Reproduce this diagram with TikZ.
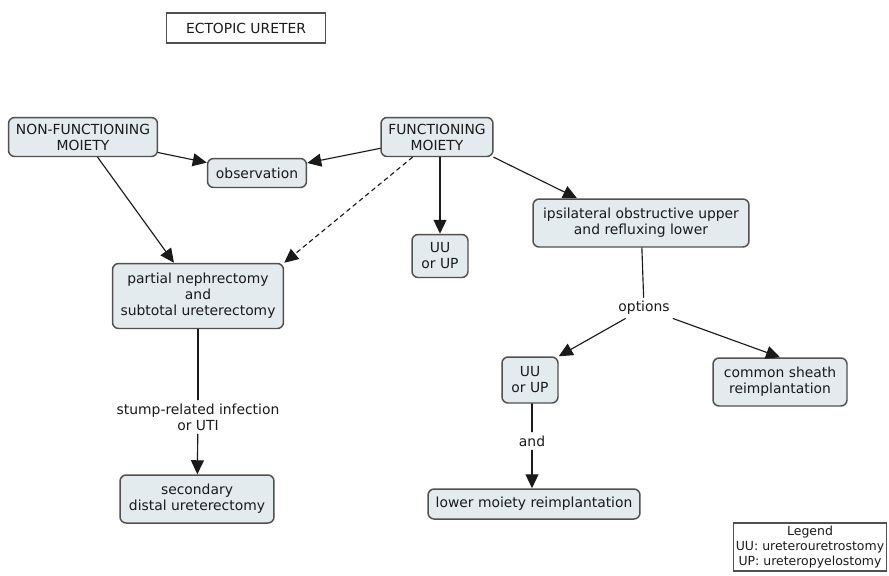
\documentclass[tikz,border=0pt]{standalone}
\usepackage{fontspec}
\setmainfont{DejaVu Sans}
\usetikzlibrary{arrows.meta}
\definecolor{conceptfill}{HTML}{E3EBEF}
\definecolor{conceptdraw}{HTML}{505050}
\definecolor{linkcolor}{HTML}{1A1A1A}
\definecolor{textcolor}{HTML}{1A1A1A}

\begin{document}
\begin{tikzpicture}[x=0.02cm,y=-0.02cm]
\tikzset{
  concept/.style={rectangle,rounded corners=3.5pt,draw=conceptdraw,fill=conceptfill,line width=0.85pt,
    align=center,inner sep=1pt,text=textcolor,font=\fontsize{7.9}{9.1}\selectfont},
  plainbox/.style={rectangle,draw=conceptdraw,fill=white,line width=0.85pt,
    align=center,inner sep=1pt,text=textcolor,font=\fontsize{7.9}{9.1}\selectfont},
  linkphrase/.style={align=center,inner sep=2pt,text=textcolor,font=\fontsize{7.9}{9.1}\selectfont},
  linkedge/.style={draw=linkcolor,line width=0.65pt,line cap=round,line join=round},
  directed/.style={linkedge,-{Triangle[length=2.8mm,width=2.6mm]}},
  undirected/.style={linkedge}
}
\useasboundingbox (0,0) rectangle (889,575);
\node[plainbox,minimum width=3.18cm,minimum height=0.60cm] (n_title) at (246,28) {ECTOPIC URETER};
\node[concept,minimum width=2.98cm,minimum height=0.78cm] (n_nonf) at (83,137) {NON-FUNCTIONING\\MOIETY};
\node[concept,minimum width=1.98cm,minimum height=0.58cm] (n_obs) at (257,173) {observation};
\node[concept,minimum width=2.24cm,minimum height=0.78cm] (n_func) at (437,137) {FUNCTIONING\\MOIETY};
\node[concept,minimum width=3.42cm,minimum height=1.30cm] (n_partial) at (198,296) {partial nephrectomy\\and\\subtotal ureterectomy};
\node[concept,minimum width=1.12cm,minimum height=0.86cm] (n_uu1) at (440,256) {UU\\or UP};
\node[concept,minimum width=4.32cm,minimum height=0.96cm] (n_ipsi) at (641,223) {ipsilateral obstructive upper\\and refluxing lower};
\node[linkphrase] (n_options) at (644,308) {options};
\node[concept,minimum width=1.12cm,minimum height=0.92cm] (n_uu2) at (530,380) {UU\\or UP};
\node[concept,minimum width=2.68cm,minimum height=0.96cm] (n_common) at (780,382) {common sheath\\reimplantation};
\node[linkphrase] (n_stump) at (198,417) {stump-related infection\\or UTI};
\node[concept,minimum width=3.08cm,minimum height=0.96cm] (n_second) at (197,499) {secondary\\distal ureterectomy};
\node[linkphrase] (n_and) at (532,441) {and};
\node[concept,minimum width=4.24cm,minimum height=0.60cm] (n_lower) at (534,504) {lower moiety reimplantation};
\node[plainbox,minimum width=3.06cm,minimum height=0.96cm,font=\fontsize{7.1}{8.4}\selectfont] (n_legend) at (810,547) {Legend\\UU: ureterouretrostomy\\UP: ureteropyelostomy};
\draw[directed] (n_nonf) -- (n_obs);
\draw[directed] (n_func) -- (n_obs);
\draw[directed] (n_nonf) -- (n_partial);
\draw[directed,dashed,dash pattern=on 2.4pt off 2.2pt] (n_func) -- (n_partial.north east);
\draw[directed] (n_func.south -| n_uu1) -- (n_uu1);
\draw[directed] (n_func.south east) -- ([xshift=-1.28cm]n_ipsi.north);
\draw[undirected] (n_ipsi) -- (n_options);
\draw[directed] (n_options) -- (n_uu2.north east);
\draw[directed] (n_options) -- (n_common.north);
\draw[undirected] (n_partial) -- (n_stump);
\draw[directed] (n_stump) -- (n_second);
\draw[undirected] (n_uu2.south -| n_and) -- (n_and);
\draw[directed] (n_and) -- (n_lower.north -| n_and);
\end{tikzpicture}
\end{document}
